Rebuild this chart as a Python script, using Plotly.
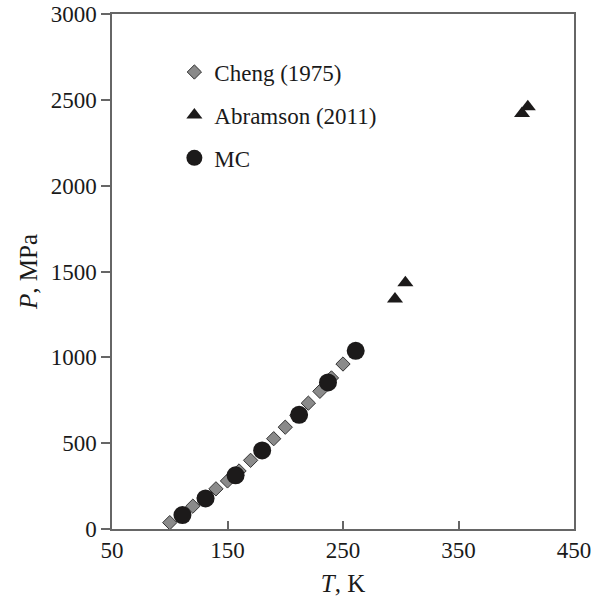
import plotly.graph_objects as go

cheng_T = [100, 110, 120, 130, 140, 150, 160, 170, 180, 190, 200, 210, 220, 230, 240, 250]
cheng_P = [37, 84, 133, 183, 234, 280, 338, 400, 462, 526, 593, 662, 733, 802, 880, 961]

abr_T = [295, 304, 405, 410]
abr_P = [1340, 1435, 2420, 2460]

mc_T = [111, 131, 157, 180, 212, 237, 261]
mc_P = [81, 178, 313, 458, 665, 854, 1038]

x_ticks = [50, 150, 250, 350, 450]
y_ticks = [0, 500, 1000, 1500, 2000, 2500, 3000]

FONT = "Liberation Serif"

fig = go.Figure()
fig.add_trace(go.Scatter(
    x=cheng_T, y=cheng_P, mode="markers", name="Cheng (1975)",
    legendgroup="a",
    marker=dict(symbol="diamond", size=11, color="#8a8a8a",
                line=dict(color="#333333", width=1)),
))
fig.add_trace(go.Scatter(
    x=abr_T, y=abr_P, mode="markers", name="Abramson (2011)",
    legendgroup="b",
    marker=dict(symbol="triangle-up", size=14, color="#1c1a1a",
                line=dict(width=0)),
))
fig.add_trace(go.Scatter(
    x=mc_T, y=mc_P, mode="markers", name="MC",
    legendgroup="c",
    marker=dict(symbol="circle", size=18, color="#1c1a1a",
                line=dict(width=0)),
))

fig.update_layout(
    width=598, height=605,
    margin=dict(l=112, r=24, t=14, b=76, autoexpand=False),
    paper_bgcolor="white", plot_bgcolor="white",
    font=dict(family=FONT, size=22, color="#1a1a1a"),
    showlegend=True,
    legend=dict(x=0.135, y=0.929, xanchor="left", yanchor="top",
                bgcolor="rgba(0,0,0,0)", borderwidth=0,
                font=dict(family=FONT, size=23, color="#1a1a1a"),
                tracegroupgap=10),
    xaxis=dict(
        range=[50, 450], tickmode="array", tickvals=x_ticks,
        ticktext=[str(v) for v in x_ticks],
        ticks="inside", ticklen=8, tickwidth=1.5, tickcolor="#666666",
        showline=True, linecolor="#666666", linewidth=1.5, mirror=True,
        showgrid=False, zeroline=False, automargin=False,
        ticklabeloverflow="allow",
        tickfont=dict(family=FONT, size=23),
        title=dict(text="<i>T</i>, K", font=dict(family=FONT, size=25), standoff=12),
    ),
    yaxis=dict(
        range=[0, 3000], tickmode="array", tickvals=y_ticks,
        ticktext=[str(v) for v in y_ticks],
        ticks="outside", ticklen=9, tickwidth=1.5, tickcolor="#666666",
        showline=True, linecolor="#666666", linewidth=1.5, mirror=True,
        showgrid=False, zeroline=False, automargin=False,
        ticklabeloverflow="allow",
        tickfont=dict(family=FONT, size=23),
        title=dict(text="<i>P</i>, MPa", font=dict(family=FONT, size=25), standoff=6),
    ),
)

fig.write_html("out.html",
               config={"displayModeBar": False},
               post_script="document.body.style.margin='0';document.body.style.overflow='hidden';")
